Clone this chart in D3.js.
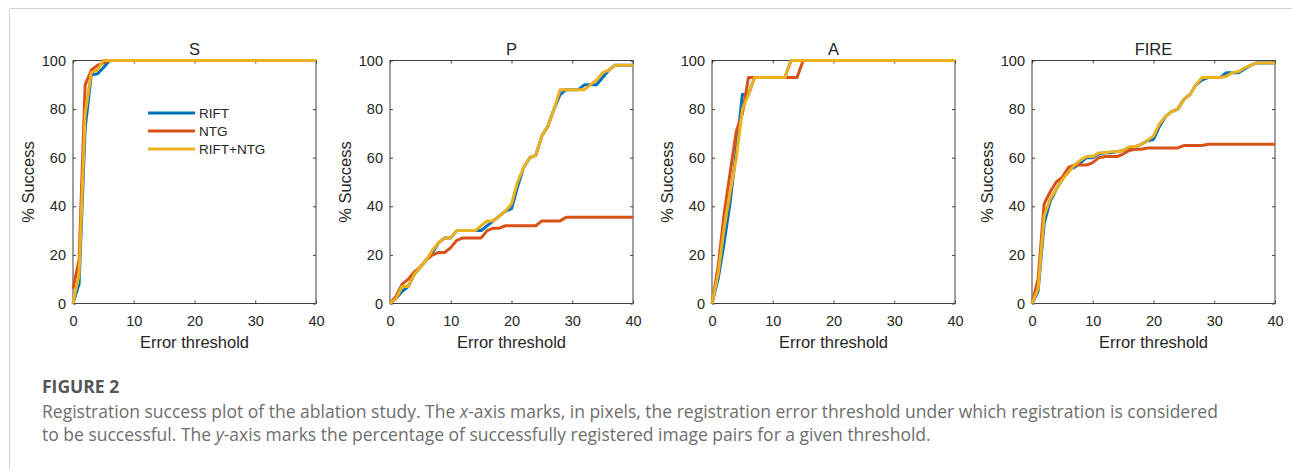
<!DOCTYPE html>
<html>
<head>
<meta charset="utf-8">
<title>Registration success - ablation</title>
<script src="https://cdn.jsdelivr.net/npm/d3@7/dist/d3.min.js"></script>
<style>
  html, body { margin: 0; padding: 0; background: #fff; }
  svg { display: block; }
  .tick text { font-family: "Liberation Sans", Arial, sans-serif; font-size: 14.5px; fill: #262626; }
  .tick line { stroke: #404040; }
  .domain { display: none; }
  .lbl { font-family: "Liberation Sans", Arial, sans-serif; font-size: 16.5px; fill: #262626; }
  .leg { font-family: "Liberation Sans", Arial, sans-serif; font-size: 13.5px; fill: #262626; }
  .cap { font-family: "Open Sans", "Noto Sans", sans-serif; fill: #6e6e6e; }
</style>
</head>
<body>
<svg id="fig" width="1292" height="469"></svg>
<script>
// thresholds (pixels) 0..40
var thresholds = [0,1,2,3,4,5,6,7,8,9,10,11,12,13,14,15,16,17,18,19,20,21,22,23,24,25,26,27,28,29,30,31,32,33,34,35,36,37,38,39,40];
var methods = ["RIFT", "NTG", "RIFT+NTG"];
var panels = ["S", "P", "A", "FIRE"];
var xTicks = [0, 10, 20, 30, 40];
var yTicks = [0, 20, 40, 60, 80, 100];

// % success per threshold
var S_rift = [0,8,72,94,94.5,97,100,100,100,100, 100,100,100,100,100,100,100,100,100,100, 100,100,100,100,100,100,100,100,100,100, 100,100,100,100,100,100,100,100,100,100, 100];
var S_ntg  = [6,18,90,96,98,99,100,100,100,100, 100,100,100,100,100,100,100,100,100,100, 100,100,100,100,100,100,100,100,100,100, 100,100,100,100,100,100,100,100,100,100, 100];
var S_both = [0,12,78,95,96,100,100,100,100,100, 100,100,100,100,100,100,100,100,100,100, 100,100,100,100,100,100,100,100,100,100, 100,100,100,100,100,100,100,100,100,100, 100];

var P_rift = [0,2,5,7,12,15,18,21,25,27, 27,30,30,30,30,30,32,34,36,38, 39,48,56,60,61,69,73,80,86,88, 88,88,90,90,90,93,96,98,98,98, 98];
var P_ntg  = [0,3,8,10,13,15,18,20,21,21, 23,26,27,27,27,27,30,31,31,32, 32,32,32,32,32,34,34,34,34,35.5, 35.5,35.5,35.5,35.5,35.5,35.5,35.5,35.5,35.5,35.5, 35.5];
var P_both = [0,2,7,7,12,15,18,22,25,27, 27,30,30,30,30,32,34,34,36,38, 41,50,56,60,61,69,73,80,88,88, 88,88,88,90,92,95,96,98,98,98, 98];

var A_rift = [0,10,25,42,63,86,86,93,93,93, 93,93,93,100,100,100,100,100,100,100, 100,100,100,100,100,100,100,100,100,100, 100,100,100,100,100,100,100,100,100,100, 100];
var A_ntg  = [0,15,37,54,71,78,93,93,93,93, 93,93,93,93,93,100,100,100,100,100, 100,100,100,100,100,100,100,100,100,100, 100,100,100,100,100,100,100,100,100,100, 100];
var A_both = [0,12,31,46,60,80,86,93,93,93, 93,93,93,100,100,100,100,100,100,100, 100,100,100,100,100,100,100,100,100,100, 100,100,100,100,100,100,100,100,100,100, 100];

var F_rift = [0,5,33,42,47,51,55,56,58,60, 60,61.5,62,62,62.5,63,64,64.5,65.5,67, 67.5,73,77,79,80,84,86,90,92,93, 93,93,95,95,95,96.5,98,99,99,99, 99];
var F_ntg  = [0,10,41,46,50,52,56,57,57,57, 58,60,60.5,60.5,60.5,61.5,63,63.5,63.5,64, 64,64,64,64,64,65,65,65,65,65.5, 65.5,65.5,65.5,65.5,65.5,65.5,65.5,65.5,65.5,65.5, 65.5];
var F_both = [0,6,36,43,47,51,54,57,59,60.5, 60.5,62,62,62.5,62.5,63,64.5,64.5,65.5,67, 69,74,77,79,80,84,86,90,93,93, 93,93,93.5,95,95.5,97,98,99,99,99, 99];

var series = [[S_rift, S_ntg, S_both], [P_rift, P_ntg, P_both], [A_rift, A_ntg, A_both], [F_rift, F_ntg, F_both]];
var colors = ["#0072BD", "#D95319", "#EDB120"];

var svg = d3.select("#fig");

// frame of the figure box
svg.append("line").attr("x1", 9.5).attr("y1", 8.5).attr("x2", 1292).attr("y2", 8.5).attr("stroke", "#d4d4d4");
svg.append("line").attr("x1", 9.5).attr("y1", 8.5).attr("x2", 9.5).attr("y2", 469).attr("stroke", "#d4d4d4");

var lefts = [73, 390, 712, 1032];
var plotTop = 60.5, w = 243, h = 243;

panels.forEach(function(name, p) {
  var x = d3.scaleLinear().domain([0, 40]).range([0, w]);
  var y = d3.scaleLinear().domain([0, 100]).range([h, 0]);
  var g = svg.append("g").attr("transform", "translate(" + lefts[p] + "," + plotTop + ")");

  g.append("rect").attr("width", w).attr("height", h)
    .attr("fill", "none").attr("stroke", "#404040").attr("stroke-width", 1);

  g.append("g").attr("transform", "translate(0," + h + ")")
    .call(d3.axisBottom(x).tickValues(xTicks).tickSize(-3).tickPadding(12));
  g.append("g")
    .call(d3.axisTop(x).tickValues(xTicks).tickSize(-3).tickFormat(""));
  g.append("g")
    .call(d3.axisLeft(y).tickValues(yTicks).tickSize(-3).tickPadding(7));
  g.append("g").attr("transform", "translate(" + w + ",0)")
    .call(d3.axisRight(y).tickValues(yTicks).tickSize(-3).tickFormat(""));

  g.append("text").attr("class", "lbl").attr("x", w / 2).attr("y", -6)
    .attr("text-anchor", "middle").text(name);
  g.append("text").attr("class", "lbl").attr("x", w / 2).attr("y", h + 44)
    .attr("text-anchor", "middle").text("Error threshold");
  g.append("text").attr("class", "lbl")
    .attr("transform", "translate(-39," + (h / 2) + ") rotate(-90)")
    .attr("text-anchor", "middle").text("% Success");

  var line = d3.line()
    .x(function(d, i) { return x(thresholds[i]); })
    .y(function(d) { return y(d); });

  series[p].forEach(function(vals, k) {
    g.append("path").datum(vals)
      .attr("d", line)
      .attr("fill", "none")
      .attr("stroke", colors[k])
      .attr("stroke-width", 3)
      .attr("stroke-linejoin", "round");
  });

  if (p === 0) {
    var leg = g.selectAll("g.legend").data(methods).enter().append("g")
      .attr("class", "legend")
      .attr("transform", function(d, i) { return "translate(75," + (52.5 + i * 18) + ")"; });
    leg.append("line").attr("x1", 0).attr("x2", 47)
      .attr("stroke", function(d, i) { return colors[i]; }).attr("stroke-width", 3);
    leg.append("text").attr("class", "leg").attr("x", 51).attr("y", 5).text(function(d) { return d; });
  }
});

// caption
svg.append("text").attr("class", "cap").attr("x", 42).attr("y", 393)
  .style("font-size", "17.5px").style("font-weight", "bold").style("fill", "#555")
  .text("FIGURE 2");

var c1 = svg.append("text").attr("class", "cap").attr("x", 42).attr("y", 418).style("font-size", "16px");
c1.append("tspan").text("Registration success plot of the ablation study. The ");
c1.append("tspan").style("font-style", "italic").text("x");
c1.append("tspan").text("-axis marks, in pixels, the registration error threshold under which registration is considered");

var c2 = svg.append("text").attr("class", "cap").attr("x", 42).attr("y", 441).style("font-size", "16px");
c2.append("tspan").text("to be successful. The ");
c2.append("tspan").style("font-style", "italic").text("y");
c2.append("tspan").text("-axis marks the percentage of successfully registered image pairs for a given threshold.");

// fit caption line widths to the figure
var w1 = c1.node().getComputedTextLength();
var s = 1177 / w1;
c1.style("font-size", (16 * s) + "px");
c2.style("font-size", (16 * s) + "px");
</script>
</body>
</html>
